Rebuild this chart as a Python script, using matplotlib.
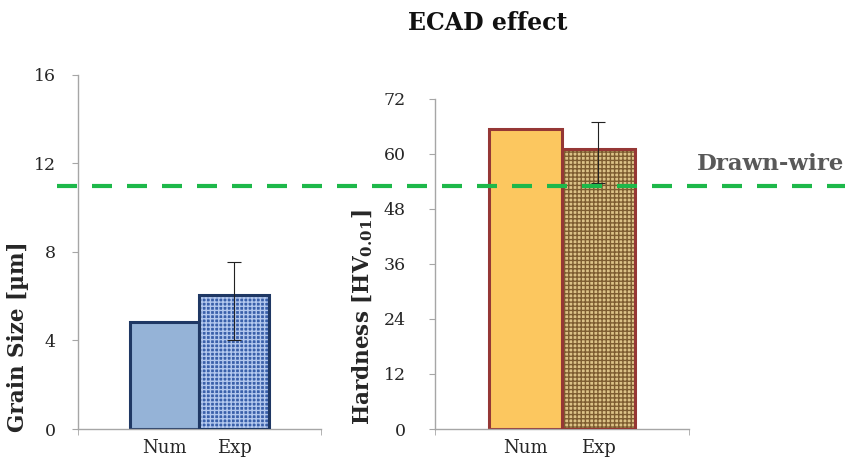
import matplotlib
matplotlib.use("Agg")
import matplotlib.pyplot as plt
import matplotlib.transforms as mtransforms

# ---- data ----
categories = ["Num", "Exp"]
grain_values = [4.84, 6.05]
grain_err_low = 2.03
grain_err_high = 1.49
hard_values = [65.5, 61.0]
hard_err_low = 7.4
hard_err_high = 5.9
drawn_wire_grain = 11.0
grain_ticks = [0, 4, 8, 12, 16]
hard_ticks = [0, 12, 24, 36, 48, 60, 72]

plt.rcParams['font.family'] = ['DejaVu Serif']
plt.rcParams['hatch.linewidth'] = 1.0

fig = plt.figure(figsize=(8.61, 4.61), dpi=100)

ax1 = fig.add_axes([0.0906, 0.0694, 0.2822, 0.768])
ax2 = fig.add_axes([0.5052, 0.0694, 0.2950, 0.716])
for ax in (ax1, ax2):
    ax.patch.set_alpha(0)

xs = [0, 1]
spine_col = '#a6a6a6'
txt_col = '#262626'

def style(ax, ticks, ymax, pad):
    ax.set_xlim(-1.25, 2.25)
    ax.set_ylim(0, ymax)
    for s in ['top', 'right']:
        ax.spines[s].set_visible(False)
    for s in ['left', 'bottom']:
        ax.spines[s].set_color(spine_col)
        ax.spines[s].set_linewidth(1.0)
    ax.set_yticks(ticks)
    ax.set_xticks(xs)
    ax.set_xticklabels(categories)
    ax.set_xticks([-1.25, 2.25], minor=True)
    ax.tick_params(axis='x', which='major', length=0, pad=7, labelsize=13, labelcolor=txt_col)
    ax.tick_params(axis='x', which='minor', length=4, color=spine_col, direction='out')
    ax.tick_params(axis='y', length=4, color=spine_col, direction='out', pad=pad,
                   labelsize=12.5, labelcolor=txt_col)

style(ax1, grain_ticks, 16, 12)
style(ax2, hard_ticks, 72, 17)

# --- left chart bars ---
ax1.bar(xs[0], grain_values[0], width=1.0, color='#95b3d7', edgecolor='#1f3864',
        linewidth=2.2, zorder=2)
ax1.bar(xs[1], grain_values[1], width=1.0, color='#3a60aa', edgecolor='#b3c8ee',
        hatch='++++', linewidth=0, zorder=2)
ax1.bar(xs[1], grain_values[1], width=1.0, color='none', edgecolor='#1f3864',
        linewidth=2.2, zorder=3)
ax1.errorbar(xs[1], grain_values[1], yerr=[[grain_err_low], [grain_err_high]], fmt='none',
             ecolor='#222222', elinewidth=0.8, capsize=5, capthick=0.8, zorder=4)

# --- right chart bars ---
ax2.bar(xs[0], hard_values[0], width=1.0, color='#fcc75f', edgecolor='#953735',
        linewidth=2.2, zorder=2)
ax2.bar(xs[1], hard_values[1], width=1.0, color='#dcc287', edgecolor='#7d5c30',
        hatch='++++', linewidth=0, zorder=2)
ax2.bar(xs[1], hard_values[1], width=1.0, color='none', edgecolor='#953735',
        linewidth=2.2, zorder=3)
ax2.errorbar(xs[1], hard_values[1], yerr=[[hard_err_low], [hard_err_high]], fmt='none',
             ecolor='#222222', elinewidth=0.8, capsize=5, capthick=0.8, zorder=4)

# --- axis labels ---
ax1.set_ylabel("Grain Size [µm]", fontsize=15.5, fontweight='bold', color=txt_col)
ax1.yaxis.set_label_coords(-0.2, 0.26)
ax2.set_ylabel("Hardness [HV$_{\\mathregular{0.01}}$]", fontsize=15.5, fontweight='bold',
               color=txt_col)
ax2.yaxis.set_label_coords(-0.236, 0.34)

# --- drawn-wire reference line across the figure (drawn on top axes) ---
trans = mtransforms.blended_transform_factory(fig.transFigure, ax1.transData)
ax2.plot([0.066, 0.981], [drawn_wire_grain, drawn_wire_grain], transform=trans,
         color='#1db84a', linewidth=3.0, dashes=(4.8, 3.6), solid_capstyle='butt',
         dash_capstyle='butt', clip_on=False, zorder=5)

fig.text(0.8955, 0.631, "Drawn-wire", ha='center', va='baseline', fontsize=16.5,
         fontweight='bold', color='#595959')
fig.text(0.566, 0.935, "ECAD effect", ha='center', va='baseline', fontsize=17,
         fontweight='bold', color='#111111')

fig.savefig("out.png", dpi=100)
